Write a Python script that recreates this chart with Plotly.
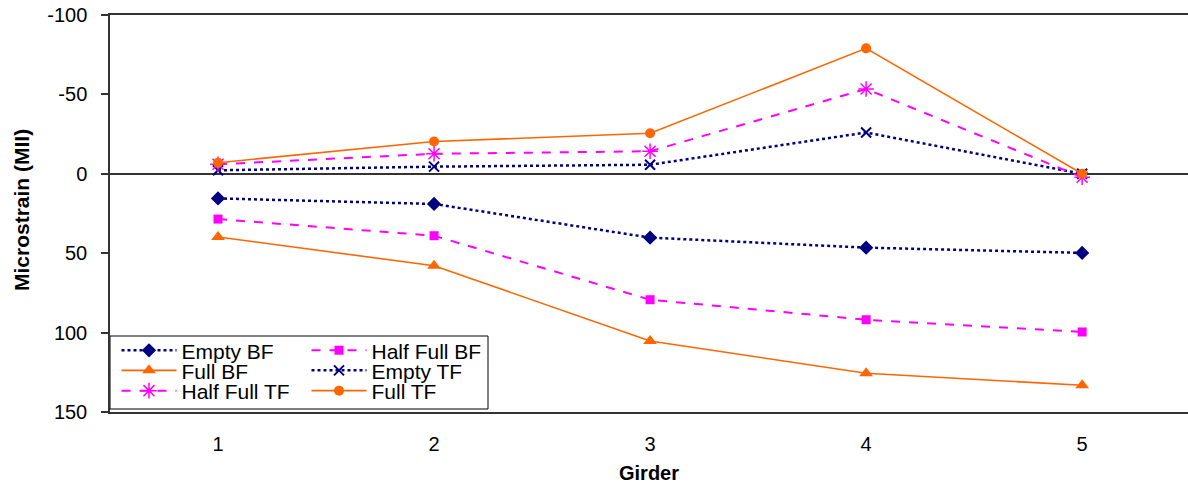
import plotly.graph_objects as go

girders = [1, 2, 3, 4, 5]
x_tick_labels = ["1", "2", "3", "4", "5"]
y_ticks = [-100, -50, 0, 50, 100, 150]
y_tick_labels = ["-100", "-50", "0", "50", "100", "150"]

empty_bf = [15.5, 19, 40.2, 46.5, 49.8]
half_full_bf = [28.5, 39, 79.3, 91.9, 99.6]
full_bf = [39.8, 57.9, 105.3, 125.6, 133.2]
empty_tf = [-2.2, -4.5, -5.7, -26, 0]
half_full_tf = [-6, -12.6, -14.2, -53.4, 2.2]
full_tf = [-7, -20.3, -25.5, -79, 0]

NAVY = "#000080"
MAG = "#FF00FF"
ORG = "#FF6600"

series = [
    ("Empty BF", empty_bf, NAVY, "dot", 2.5, dict(symbol="diamond", size=11, color=NAVY), "legend"),
    ("Half Full BF", half_full_bf, MAG, "dash", 2, dict(symbol="square", size=9, color=MAG), "legend2"),
    ("Full BF", full_bf, ORG, "solid", 1.6, dict(symbol="triangle-up", size=12, color=ORG), "legend3"),
    ("Empty TF", empty_tf, NAVY, "dot", 2.5, dict(symbol="x-thin-open", size=10, color=NAVY, line=dict(width=2, color=NAVY)), "legend4"),
    ("Half Full TF", half_full_tf, MAG, "dash", 2, dict(symbol="asterisk-open", size=13, color=MAG, line=dict(width=1.5, color=MAG)), "legend5"),
    ("Full TF", full_tf, ORG, "solid", 1.6, dict(symbol="circle", size=10, color=ORG), "legend6"),
]

fig = go.Figure()
for name, vals, col, dash, w, mk, lg in series:
    fig.add_trace(go.Scatter(
        x=girders, y=vals, name=name, mode="lines+markers",
        line=dict(color=col, dash=dash, width=w), marker=mk, legend=lg,
    ))

FONT = "Liberation Sans, Arial, sans-serif"
W, H = 1188, 487
L, R, T, B = 110, 0, 15, 487 - 412
pw, ph = W - L - R, H - T - B

def px_x(p):
    return (p - L) / pw

def px_y(p):
    return (T + ph - p) / ph

left_x = px_x(116.5)
right_x = px_x(306.5)
rows = [px_y(350.7), px_y(370.7), px_y(391)]
legend_pos = {
    "legend": (left_x, rows[0]), "legend2": (right_x, rows[0]),
    "legend3": (left_x, rows[1]), "legend4": (right_x, rows[1]),
    "legend5": (left_x, rows[2]), "legend6": (right_x, rows[2]),
}
legend_cfg = {}
for k, (lx, ly) in legend_pos.items():
    legend_cfg[k] = dict(
        x=lx, y=ly, xanchor="left", yanchor="middle", xref="paper", yref="paper",
        bgcolor="rgba(0,0,0,0)", borderwidth=0, font=dict(family=FONT, size=21, color="#000"),
        itemwidth=55, orientation="v", itemclick=False,
    )

fig.update_layout(
    width=W, height=H,
    margin=dict(l=L, r=R, t=T, b=B, autoexpand=False),
    paper_bgcolor="white", plot_bgcolor="white",
    font=dict(family=FONT, color="#000"),
    showlegend=True,
    **legend_cfg,
    xaxis=dict(
        range=[0.5, 5.49], tickmode="array", tickvals=girders, ticktext=x_tick_labels,
        showgrid=False, zeroline=False, showline=True, mirror=True,
        linecolor="#333", linewidth=1.5, ticks="", ticklabelstandoff=13,
        tickfont=dict(size=20, family=FONT), automargin=False,
        title=dict(text="<b>Girder</b>", font=dict(size=20, family=FONT), standoff=12),
    ),
    yaxis=dict(
        range=[150, -100], tickmode="array", tickvals=y_ticks, ticktext=y_tick_labels,
        showgrid=False, zeroline=True, zerolinecolor="#333", zerolinewidth=1.5,
        showline=True, mirror=False, linecolor="#333", linewidth=1.5,
        ticks="outside", ticklen=7, tickcolor="#333", tickwidth=1.5,
        ticklabelstandoff=10, ticklabeloverflow="allow",
        tickfont=dict(size=20, family=FONT), automargin=False,
    ),
    annotations=[dict(
        text="<b>Microstrain (MII)</b>", textangle=-90, showarrow=False,
        xref="paper", yref="paper", x=px_x(22), y=px_y(210),
        xanchor="center", yanchor="middle", font=dict(size=21, family=FONT, color="#000"),
    )],
    shapes=[dict(
        type="rect", xref="paper", yref="paper",
        x0=px_x(110), x1=px_x(488), y0=px_y(409), y1=px_y(336),
        line=dict(color="#000", width=1), fillcolor="white", layer="below",
    )],
)

fig.write_html(
    "out.html",
    config={"displayModeBar": False},
    post_script="document.body.style.margin='0';",
)
